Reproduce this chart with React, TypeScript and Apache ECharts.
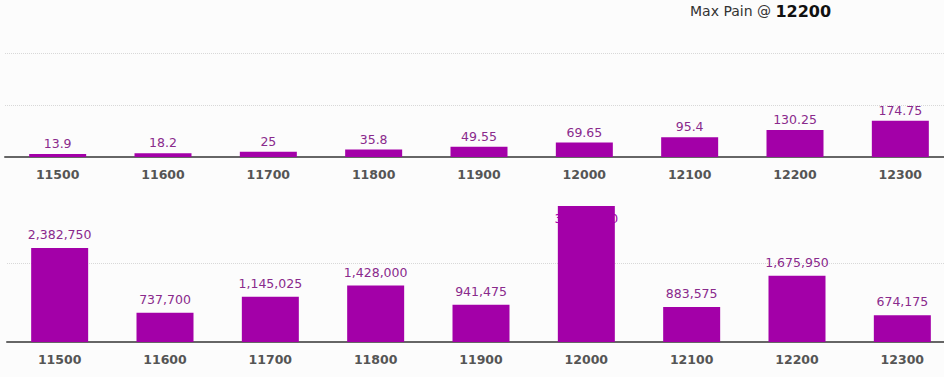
import React, { useEffect, useRef } from "react";
import * as echarts from "echarts";

const strikes = ["11500", "11600", "11700", "11800", "11900", "12000", "12100", "12200", "12300"];
const topValues = [13.9, 18.2, 25, 35.8, 49.55, 69.65, 95.4, 130.25, 174.75];
const bottomValues = [2382750, 737700, 1145025, 1428000, 941475, 3443000, 883575, 1675950, 674175];
const maxPainStrike = "12200";

const BAR = "#a300a8";
const LABEL = "#8a2a8c";
const FONT = "DejaVu Sans";

export default function App() {
  const ref = useRef<HTMLDivElement>(null);
  useEffect(() => {
    if (!ref.current) return;
    const chart = echarts.init(ref.current, null, { renderer: "svg" });
    const bottomMax = Math.max(...bottomValues);
    const xAxisCommon = {
      type: "category" as const,
      data: strikes,
      axisLine: { show: true, lineStyle: { color: "#666", width: 2 } },
      axisTick: { show: false },
      axisLabel: {
        color: "#555",
        fontFamily: FONT,
        fontWeight: "bold" as const,
        fontSize: 12.5,
        margin: 11,
      },
    };
    const splitLine = {
      show: true,
      showMinLine: false,
      lineStyle: { color: "#d8d8d8", type: "dotted" as const, width: 1 },
    };
    chart.setOption({
      animation: false,
      backgroundColor: "#fcfcfc",
      title: {
        text: "{a|Max Pain @ }{b|" + maxPainStrike + "}",
        left: 685,
        top: -2,
        textStyle: {
          fontWeight: "normal",
          rich: {
            a: { fontFamily: FONT, fontSize: 14, fontWeight: "normal", color: "#333" },
            b: { fontFamily: FONT, fontSize: 16, fontWeight: "bold", color: "#111" },
          },
        },
      },
      grid: [
        { left: 5, width: 948, top: 53, height: 104 },
        { left: 7, width: 948, top: 206, height: 136 },
      ],
      xAxis: [
        { ...xAxisCommon, gridIndex: 0 },
        { ...xAxisCommon, gridIndex: 1 },
      ],
      yAxis: [
        {
          type: "value",
          gridIndex: 0,
          min: 0,
          max: 500,
          interval: 250,
          axisLabel: { show: false },
          axisLine: { show: false },
          axisTick: { show: false },
          splitLine: { ...splitLine, showMaxLine: true },
        },
        {
          type: "value",
          gridIndex: 1,
          min: 0,
          max: bottomMax,
          interval: 2000000,
          axisLabel: { show: false },
          axisLine: { show: false },
          axisTick: { show: false },
          splitLine: { ...splitLine, showMaxLine: false },
        },
      ],
      series: [
        {
          type: "bar",
          xAxisIndex: 0,
          yAxisIndex: 0,
          data: topValues,
          barWidth: 57,
          itemStyle: { color: BAR },
          label: {
            show: true,
            position: "top",
            distance: 4,
            color: LABEL,
            fontFamily: FONT,
            fontSize: 12.5,
          },
        },
        {
          type: "bar",
          xAxisIndex: 1,
          yAxisIndex: 1,
          barWidth: 57,
          data: bottomValues.map((v) =>
            v === bottomMax
              ? { value: v, label: { position: "insideTop", distance: 6, color: BAR } }
              : v
          ),
          itemStyle: { color: BAR },
          label: {
            show: true,
            position: "top",
            distance: 7,
            color: LABEL,
            fontFamily: FONT,
            fontSize: 12.5,
            formatter: (p: any) => Number(p.value).toLocaleString("en-US"),
          },
        },
      ],
    });
    return () => chart.dispose();
  }, []);
  return (
    <div
      style={{
        position: "absolute",
        left: 0,
        top: 0,
        width: 944,
        height: 377,
        overflow: "hidden",
        background: "#fcfcfc",
      }}
    >
      <div ref={ref} style={{ width: 960, height: 377 }} />
    </div>
  );
}
